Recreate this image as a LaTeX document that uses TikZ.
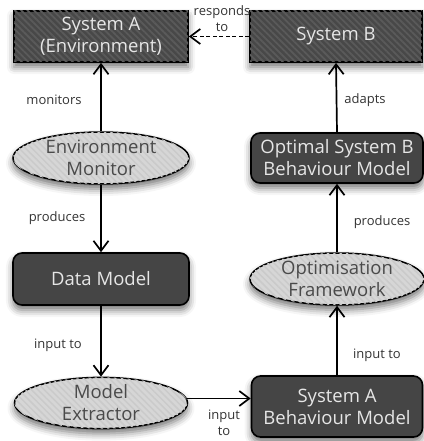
\documentclass[tikz,border=0pt]{standalone}
\usepackage{fontspec}
\setmainfont{Open Sans}
\usetikzlibrary{arrows.meta,shapes.geometric,shadows.blur,patterns.meta}
\definecolor{darkfill}{HTML}{454545}
\definecolor{hatchbase}{HTML}{484848}
\definecolor{hatchline}{HTML}{5A5A5A}
\definecolor{ellfill}{HTML}{D6D6D6}
\definecolor{ellline}{HTML}{CACACA}
\definecolor{lighttext}{HTML}{E6E6E6}
\definecolor{darktext}{HTML}{4A4A4A}
\definecolor{labeltext}{HTML}{333333}
\tikzset{
  shad/.style={blur shadow={shadow xshift=0pt,shadow yshift=-5pt,shadow blur radius=7pt,shadow opacity=55}},
  hatchbox/.style={rectangle,draw=black,line width=1.8pt,fill=hatchbase,shad,
    postaction={pattern={Lines[angle=-45,distance=4.5pt,line width=1.8pt]},pattern color=hatchline},
    text=lighttext,font=\fontsize{18.5}{22}\selectfont,align=center,inner sep=0pt},
  roundbox/.style={rectangle,rounded corners=9pt,draw=black,line width=1.6pt,fill=darkfill,shad,
    text=lighttext,font=\fontsize{18.5}{22}\selectfont,align=center,inner sep=0pt},
  ellbox/.style={ellipse,draw=black,line width=1.5pt,fill=ellfill,shad,
    postaction={pattern={Lines[angle=-45,distance=4.5pt,line width=1.5pt]},pattern color=ellline},
    text=darktext,font=\fontsize{18.5}{22}\selectfont,align=center,inner sep=0pt},
  lbl/.style={text=labeltext,font=\fontsize{13}{16}\selectfont,align=center,inner sep=0pt},
  arr/.style={line width=1.7pt,-{Straight Barb[length=10pt,width=15pt,line width=1.7pt]}}
}
\begin{document}
\begin{tikzpicture}[x=1pt,y=-1pt]
\useasboundingbox (0,0) rectangle (423,441);
% nodes
\node[hatchbox,minimum width=174pt,minimum height=51pt] (sysA) at (101,36.5) {System A\\(Environment)};
\node[hatchbox,minimum width=172pt,minimum height=51pt] (sysB) at (336,36.5) {System B};
\node[ellbox,minimum width=176pt,minimum height=52pt] (envmon) at (101,158) {Environment\\Monitor};
\node[roundbox,minimum width=176pt,minimum height=52pt] (data) at (101,279) {Data Model};
\node[ellbox,minimum width=173pt,minimum height=48pt] (extr) at (101,403) {Model\\Extractor};
\node[roundbox,minimum width=171pt,minimum height=61pt] (sabm) at (337,406.5) {System A\\Behaviour Model};
\node[ellbox,minimum width=174pt,minimum height=52pt] (optfw) at (337,279) {Optimisation\\Framework};
\node[roundbox,minimum width=172pt,minimum height=50pt] (optbm) at (337,158) {Optimal System B\\Behaviour Model};
% connectors
\draw[arr,dash pattern=on 4pt off 2.5pt] (sysB.west) -- (sysA.east);
\draw[arr] (envmon.north) -- (sysA.south);
\draw[arr] (envmon.south) -- (data.north);
\draw[arr] (data.south) -- (extr.north);
\draw[arr] (extr.3) -- (extr.3 -| sabm.west);
\draw[arr] (sabm.north) -- (optfw.south);
\draw[arr] (optfw.north) -- (optbm.south);
\draw[arr] (optbm.north) -- (sysB.south);
% labels
\node[lbl] (l1) at (222,18.5) {responds\\to};
\node[lbl] (l2) at (54,100) {monitors};
\node[lbl] (l3) at (57,218) {produces};
\node[lbl] (l4) at (58,345) {input to};
\node[lbl] (l5) at (224,423) {input\\to};
\node[lbl] (l6) at (365,100) {adapts};
\node[lbl] (l7) at (382,222) {produces};
\node[lbl] (l8) at (377,355) {input to};
\end{tikzpicture}
\end{document}
